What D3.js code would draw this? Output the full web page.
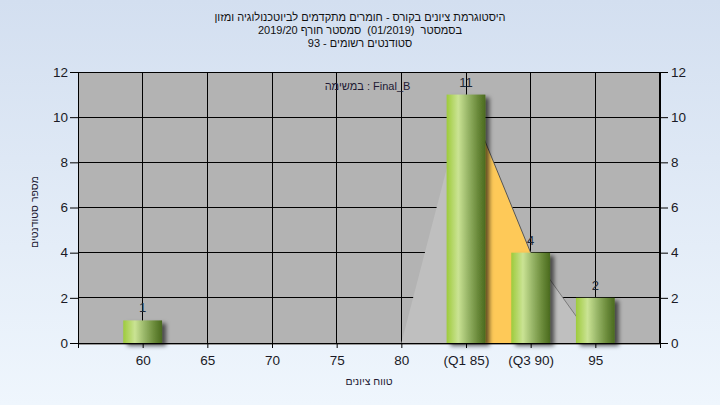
<!DOCTYPE html>
<html><head><meta charset="utf-8">
<script src="https://cdn.jsdelivr.net/npm/d3@7"></script>
<style>
html,body{margin:0;padding:0;background:#fff;}
svg{display:block;font-family:"Liberation Sans",Arial,sans-serif;}
</style></head>
<body>
<svg id="chart" width="720" height="405"></svg>
<script>
// ---- data ----
const titleLines = [
  "היסטוגרמת ציונים בקורס - חומרים מתקדמים לביוטכנולוגיה ומזון",
  "בסמסטר  (01/2019)  סמסטר חורף 2019/20",
  "סטודנטים רשומים - 93"
];
const taskLabel = "במשימה : Final_B";
const xTitle = "טווח ציונים";
const yTitle = "מספר סטודנטים";
const binCenters = [60, 85, 90, 95];
const binCounts = [1, 11, 4, 2];
const xTicks = [55, 60, 65, 70, 75, 80, 85, 90, 95, 100];
const xTickLabels = ["", "60", "65", "70", "75", "80", "(Q1 85)", "(Q3 90)", "95", ""];
const yTicks = [0, 2, 4, 6, 8, 10, 12];
const areaX = [80, 85, 90, 95];
const areaY = [0, 11, 4, 0];
const quartileX = [85, 90];

const svg = d3.select("#chart");
const W = 720, H = 405;
const L = 78, R = 660, T = 72, B = 343;

// lay out words centred on (0,0) of parent; rtl places the first word on the right
function wordLine(parent, s, size, fill, rtl) {
  const g = parent.append("g").attr("font-size", size + "px").attr("fill", fill);
  const probe = g.append("text").text("x x");
  const probe2 = g.append("text").text("xx");
  const sp = probe.node().getComputedTextLength() - probe2.node().getComputedTextLength();
  probe.remove(); probe2.remove();
  let cur = 0;
  const items = [];
  s.split(" ").forEach((w, i) => {
    if (i > 0) cur += sp;
    if (w) {
      const t = g.append("text").text(w);
      const len = t.node().getComputedTextLength();
      items.push([t, cur, len]);
      cur += len;
    }
  });
  items.forEach(([t, pos, len]) => {
    const xx = rtl ? (cur / 2 - pos - len) : (pos - cur / 2);
    t.attr("x", xx);
  });
  return g;
}

const defs = svg.append("defs");
const bg = defs.append("linearGradient").attr("id","bg").attr("x1",0).attr("y1",0).attr("x2",0).attr("y2",1);
bg.append("stop").attr("offset","0%").attr("stop-color","#d3dff0");
bg.append("stop").attr("offset","100%").attr("stop-color","#eff6fd");
const bar = defs.append("linearGradient").attr("id","bar").attr("x1",0).attr("y1",0).attr("x2",1).attr("y2",0);
[["0%","#9dcb3c"],["12%","#b0d45f"],["30%","#cae394"],["55%","#97b567"],["80%","#6a8a3a"],["100%","#4a6a1e"]]
  .forEach(([o,c]) => bar.append("stop").attr("offset",o).attr("stop-color",c));
const f = defs.append("filter").attr("id","shadow").attr("x","-20%").attr("y","-20%").attr("width","160%").attr("height","160%");
f.append("feDropShadow").attr("dx",4).attr("dy",3).attr("stdDeviation",2.2).attr("flood-color","#000").attr("flood-opacity",0.6);

svg.append("rect").attr("width",W).attr("height",H).attr("fill","url(#bg)");

const x = d3.scaleLinear().domain([55,100]).range([L,R]);
const y = d3.scaleLinear().domain([0,12]).range([B,T]);

// plot background
svg.append("rect").attr("x",L).attr("y",T).attr("width",R-L).attr("height",B-T).attr("fill","#b3b3b3");
svg.append("line").attr("x1",L).attr("x2",R).attr("y1",B+1.5).attr("y2",B+1.5).attr("stroke","#9a9a9a");

// grid
const grid = svg.append("g").attr("stroke","#000").attr("stroke-width",1).attr("shape-rendering","crispEdges");
yTicks.forEach(v => grid.append("line").attr("x1",L).attr("x2",R).attr("y1",y(v)).attr("y2",y(v)));
xTicks.forEach(v => grid.append("line").attr("x1",x(v)).attr("x2",x(v)).attr("y1",T).attr("y2",B));

// distribution area
const pts = areaX.map((v,i) => [x(v), y(areaY[i])]);
svg.append("path").attr("d", d3.line()(pts) + "Z").attr("fill","#bfbfbf");
const q0 = areaX.indexOf(quartileX[0]), q1 = areaX.indexOf(quartileX[1]);
const qpts = [[x(quartileX[0]), y(0)], pts[q0], pts[q1], [x(quartileX[1]), y(0)]];
svg.append("path").attr("d", d3.line()(qpts) + "Z").attr("fill","#fec958");
svg.append("path").attr("d", d3.line()([pts[q0], pts[q1]])).attr("stroke","#555").attr("stroke-width",1).attr("fill","none");
svg.append("path").attr("d", d3.line()(pts.slice(q1))).attr("stroke","#7a7a7a").attr("stroke-width",1).attr("fill","none");

// bars
const bw = x(56.5) - x(55);
svg.append("g").selectAll("rect").data(binCenters).join("rect")
  .attr("x", d => x(d) - bw)
  .attr("y", (d,i) => y(binCounts[i]))
  .attr("width", bw*2)
  .attr("height", (d,i) => y(0) - y(binCounts[i]))
  .attr("fill","url(#bar)")
  .attr("filter","url(#shadow)");

// frame
svg.append("rect").attr("x",L+0.5).attr("y",T+0.5).attr("width",R-L-1).attr("height",B-T).attr("fill","none").attr("stroke","#000");

// value labels
svg.append("g").selectAll("text").data(binCenters).join("text")
  .attr("x", d => x(d)).attr("y", (d,i) => y(binCounts[i]) - 8)
  .attr("text-anchor","middle").attr("font-size","13px").attr("fill","#1d2733")
  .text((d,i) => binCounts[i]);

// axes
const tickStyle = g => {
  g.select(".domain").remove();
  g.selectAll("line").attr("stroke","#000");
  g.selectAll("text").attr("fill","#1a1a26").attr("font-size","13.5px").attr("font-family","Liberation Sans, Arial, sans-serif");
};
svg.append("g").attr("transform",`translate(${L},0)`)
  .call(d3.axisLeft(y).tickValues(yTicks).tickSize(8).tickPadding(2)).call(tickStyle);
svg.append("g").attr("transform",`translate(${R},0)`)
  .call(d3.axisRight(y).tickValues(yTicks).tickSize(8).tickPadding(3)).call(tickStyle);
svg.append("g").attr("transform",`translate(0,${B})`)
  .call(d3.axisBottom(x).tickValues(xTicks).tickSize(5).tickPadding(7)
    .tickFormat((d,i) => xTickLabels[i])).call(tickStyle);

// titles (Hebrew, right to left)
titleLines.forEach((t,i) => {
  const g = svg.append("g").attr("transform", `translate(360,${20.5 + i*13})`);
  wordLine(g, t, 11, "#111", true);
});
wordLine(svg.append("g").attr("transform","translate(367.5,90)"), taskLabel, 11, "#221a33", false);
wordLine(svg.append("g").attr("transform","translate(369,385)"), xTitle, 10.5, "#221a33", true);
wordLine(svg.append("g").attr("transform","translate(38,212) rotate(-90)"), yTitle, 10.5, "#221a33", true);
</script>
</body></html>
